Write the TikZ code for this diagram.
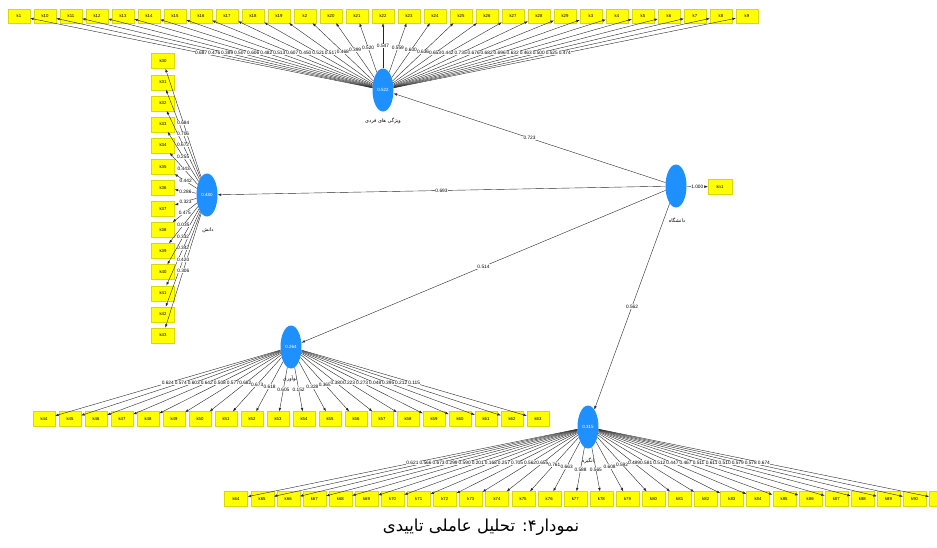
\documentclass[tikz,border=0pt]{standalone}
\usepackage{fontspec}
\setmainfont{Liberation Sans}
\newfontfamily\farsi[Script=Arabic]{DejaVu Sans}
\TeXXeTstate=1
\usetikzlibrary{shapes.geometric,arrows.meta}
\definecolor{lvblue}{RGB}{30,144,255}
\definecolor{indyellow}{RGB}{255,255,0}

\begin{document}
\begin{tikzpicture}[x=1pt,y=-1pt,
  ind/.style={fill=indyellow, draw=indyellow!85!black, line width=0.2pt,
    minimum width=22pt, minimum height=14pt, inner sep=0pt,
    font=\fontsize{4.3}{4.3}\selectfont},
  lat/.style={ellipse, fill=lvblue, minimum width=21pt, minimum height=43pt,
    inner sep=0pt, text=white, font=\fontsize{4.5}{4.5}\selectfont},
  rel/.style={draw=black!85, line width=0.4pt, -{Latex[length=3.5pt,width=2.6pt]}},
  wt/.style={fill=white, inner sep=0.4pt, font=\fontsize{4.8}{4.8}\selectfont},
  lvname/.style={font=\farsi\fontsize{5}{5}\selectfont}]

\useasboundingbox (0,0) rectangle (937,547);
\clip (0,0) rectangle (937,547);

% latent variables
\node[lat] (T)  at (383,90)  {0.522};
\node[lat] (L)  at (207,195) {0.480};
\node[lat] (R)  at (676,186) {};
\node[lat] (BL) at (291,347) {0.264};
\node[lat] (BR) at (588,427) {0.315};

\node[lvname] (Tn)  at (383,121) {\beginR ویژگی های فردی\endR};
\node[lvname] (Ln)  at (208,230) {\beginR دانش\endR};
\node[lvname] (Rn)  at (677,220) {\beginR دانشگاه\endR};
\node[lvname] (BLn) at (290,379) {\beginR نوآوری\endR};
\node[lvname] (BRn) at (588,461) {\beginR انگیزه\endR};

% single indicator of the exogenous construct
\node[ind, minimum width=24pt, minimum height=15pt] (r1) at (720,187) {kn1};
\draw[rel] (R) -- (r1) node[wt,midway]{1.000};

% indicator rows and columns
\foreach \lab [count=\i from 0] in {k1,k10,k11,k12,k13,k14,k15,k16,k17,k18,k19,k2,k20,k21,k22,k23,k24,k25,k26,k27,k28,k29,k3,k4,k5,k6,k7,k8,k9}
  \node[ind] (t\i) at ({19+26*\i},16) {\lab};
\foreach \lab [count=\i from 0] in {k30,k31,k32,k33,k34,k35,k36,k37,k38,k39,k40,k41,k42,k43}
  \node[ind, minimum width=23pt, minimum height=15pt] (l\i) at (163,{61+21.1*\i}) {\lab};
\foreach \lab [count=\i from 0] in {k44,k45,k46,k47,k48,k49,k50,k51,k52,k53,k54,k55,k56,k57,k58,k59,k60,k61,k62,k63}
  \node[ind, minimum height=15pt] (b\i) at ({44+26*\i},419) {\lab};
\foreach \lab [count=\i from 0] in {k64,k65,k66,k67,k68,k69,k70,k71,k72,k73,k74,k75,k76,k77,k78,k79,k80,k81,k82,k83,k84,k85,k86,k87,k88,k89,k90}
  \node[ind, minimum width=23pt, minimum height=15pt] (c\i) at ({236+26.1*\i},499) {\lab};
% last indicator of the row runs past the right edge
\node[ind, minimum width=23pt, minimum height=15pt] (c27) at ({236+26.1*27},499) {};

% outer loadings: lines first
\foreach \i in {0,...,28} \draw[rel] (T) -- (t\i);
\foreach \i in {0,...,13} \draw[rel] (L) -- (l\i);
\foreach \i in {0,...,19} \draw[rel] (BL) -- (b\i);
\foreach \i in {0,...,27} \draw[rel] (BR) -- (c\i);

% structural paths
\draw[rel] (R) -- (T);
\draw[rel] (R) -- (L);
\draw[rel] (R) -- (BL);
\draw[rel] (R) -- (BR);

% loading values
\foreach \v [count=\i from 0] in {0.687,0.476,0.389,0.507,0.606,0.482,0.513,0.607,0.450,0.521,0.517,0.468,0.399,0.520,0.547,0.559,0.600,0.636,0.653,0.442,0.735,0.676,0.682,0.696,0.632,0.463,0.500,0.525,0.474}
  \path (T) -- (t\i) node[wt,midway]{\v};
\foreach \v [count=\i from 0] in {0.684,0.706,0.672,0.255,0.443,0.442,0.286,0.323,0.475,0.035,0.332,0.342,0.420,0.306}
  \path (L) -- (l\i) node[wt,midway]{\v};
\foreach \v [count=\i from 0] in {0.624,0.574,0.603,0.642,0.508,0.577,0.682,0.673,0.618,0.605,0.152,0.328,0.365,0.380,0.223,0.273,0.048,0.395,0.212,0.115}
  \path (BL) -- (b\i) node[wt,midway]{\v};
\foreach \v [count=\i from 0] in {0.621,0.566,0.673,0.299,0.590,0.201,0.168,0.257,0.705,0.562,0.655,0.761,0.663,0.588,0.565,0.608,0.592,0.489,0.581,0.512,0.447,0.467,0.511,0.611,0.510,0.579,0.578,0.674}
  \path (BR) -- (c\i) node[wt,midway]{\v};

% path coefficients
\path (R) -- (T)  node[wt,midway]{0.723};
\path (R) -- (L)  node[wt,midway]{0.693};
\path (R) -- (BL) node[wt,midway]{0.514};
\path (R) -- (BR) node[wt,midway]{0.562};

% caption
\node (cap) at (481,527) {\farsi\fontsize{16.5}{19}\selectfont\beginR نمودار۴: تحلیل عاملی تاییدی\endR};
\end{tikzpicture}
\end{document}
